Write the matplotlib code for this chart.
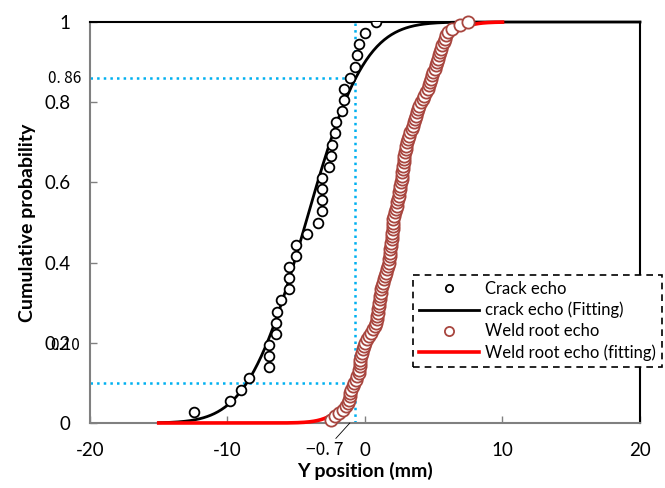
import math
import numpy as np
import matplotlib
matplotlib.use("Agg")
import matplotlib.pyplot as plt

plt.rcParams['font.family'] = ['Lato', 'DejaVu Sans']
plt.rcParams['axes.unicode_minus'] = False

# crack echo positions (mm), sorted
crack_y = [-12.4, -9.8, -9.0, -8.4, -7.0, -7.0, -7.0, -6.5, -6.5, -6.4, -6.1, -5.5,
           -5.5, -5.5, -5.0, -5.0, -4.2, -3.4, -3.1, -3.1, -3.1, -3.1, -2.6, -2.5,
           -2.4, -2.2, -2.1, -1.7, -1.5, -1.5, -1.1, -0.7, -0.6, -0.4, 0.0, 0.8]

# weld root echo positions (mm), sorted
weld_y = [-2.5, -2.2, -1.9, -1.6, -1.35, -1.2, -1.14, -1.1, -1.07, -1.03,
          -0.9, -0.79, -0.66, -0.55, -0.47, -0.41, -0.38, -0.36, -0.33, -0.3,
          -0.23, -0.16, -0.08, 0.0, 0.14, 0.27, 0.45, 0.61, 0.72, 0.83,
          0.87, 0.91, 0.95, 0.98, 1.01, 1.04, 1.06, 1.1, 1.13, 1.18,
          1.25, 1.31, 1.39, 1.47, 1.55, 1.62, 1.68, 1.75, 1.77, 1.79,
          1.81, 1.85, 1.89, 1.92, 1.95, 1.97, 2.0, 2.01, 2.02, 2.03,
          2.05, 2.11, 2.18, 2.25, 2.3, 2.35, 2.39, 2.44, 2.48, 2.52,
          2.57, 2.62, 2.66, 2.69, 2.72, 2.75, 2.78, 2.81, 2.84, 2.87,
          2.91, 2.95, 2.99, 3.04, 3.12, 3.2, 3.29, 3.39, 3.49, 3.56,
          3.61, 3.69, 3.77, 3.85, 3.95, 4.07, 4.2, 4.32, 4.44, 4.57,
          4.65, 4.73, 4.81, 4.9, 4.98, 5.06, 5.14, 5.22, 5.3, 5.38,
          5.47, 5.55, 5.63, 5.71, 5.79, 5.9, 6.05, 6.3, 6.9, 7.5]

# normal fits (mean, std) and drawing ranges
crack_mu, crack_sd = -4.3, 3.35
weld_mu, weld_sd = 2.2, 2.26
crack_range = (-15, 20)
weld_range = (-15, 10)

# reference lines
x_ref = -0.7
p_hi, p_lo = 0.86, 0.10


def norm_cdf(x, mu, sd):
    return np.array([0.5 * (1 + math.erf((v - mu) / (sd * math.sqrt(2)))) for v in x])


crack_p = np.arange(1, len(crack_y) + 1) / len(crack_y)
weld_p = np.arange(1, len(weld_y) + 1) / len(weld_y)

fig = plt.figure(figsize=(6.65, 4.88), dpi=100)
ax = fig.add_axes([0.1353, 0.1332, 0.8271, 0.8217])

xc = np.linspace(*crack_range, 400)
xw = np.linspace(*weld_range, 400)

ax.plot(crack_y, crack_p, 'o', mfc='white', mec='black', ms=7, mew=1.3,
        label='Crack echo', zorder=3)
ax.plot(xc, norm_cdf(xc, crack_mu, crack_sd), color='black', lw=2,
        label='crack echo (Fitting)', zorder=2, clip_on=False)
ax.plot(weld_y, weld_p, 'o', mfc='white', mec='#A8463F', ms=8.8, mew=1.3,
        label='Weld root echo', zorder=5, clip_on=False)
ax.plot(xw, norm_cdf(xw, weld_mu, weld_sd), color='#FF0000', lw=2.6,
        label='Weld root echo (fitting)', zorder=4, clip_on=False)

blue = '#00B0F0'
ax.plot([-20, x_ref], [p_hi, p_hi], color=blue, ls=':', lw=1.8, zorder=1)
ax.plot([-20, x_ref], [p_lo, p_lo], color=blue, ls=':', lw=1.8, zorder=1)
ax.plot([x_ref, x_ref], [0, 1], color=blue, ls=':', lw=1.8, zorder=1)

ax.set_xlim(-20, 20)
ax.set_ylim(0, 1)
ax.set_xticks([-20, -10, 0, 10, 20])
ax.set_yticks([0, 0.2, 0.4, 0.6, 0.8, 1])
ax.set_yticklabels(['0', '0.2', '0.4', '0.6', '0.8', '1'])
ax.tick_params(direction='in', length=5, width=1, color='#808080',
               labelsize=13.5, pad=14)
ax.set_xlabel('Y position (mm)', fontsize=14, fontweight='bold', labelpad=2)
ax.set_ylabel('Cumulative probability', fontsize=14, fontweight='bold', labelpad=6)

for s in ['left', 'bottom']:
    ax.spines[s].set_color('#808080')
    ax.spines[s].set_linewidth(1.5)
for s in ['top', 'right']:
    ax.spines[s].set_color('black')
    ax.spines[s].set_linewidth(1.5)

# hand-placed annotations
cjk = ['Noto Sans CJK JP', 'DejaVu Sans']
ax.text(-0.015, p_hi, '0. 86', transform=ax.get_yaxis_transform(), ha='right',
        va='center', fontsize=11, family=cjk)
ax.text(-0.018, 0.193, '0.10', transform=ax.get_yaxis_transform(), ha='right',
        va='center', fontsize=11, family=cjk)
ax.annotate('\u22120. 7', xy=(-1.1, 0), xytext=(-2.9, -0.068), ha='center',
            va='center', fontsize=12.5, family=cjk, annotation_clip=False,
            arrowprops=dict(arrowstyle='-', lw=0.6, color='black', shrinkA=0, shrinkB=0))

leg = ax.legend(loc='upper left', bbox_to_anchor=(0.587, 0.369), fontsize=12,
                frameon=True, fancybox=False, edgecolor='black', framealpha=1,
                borderpad=0.35, labelspacing=0.3, handlelength=3.6,
                handletextpad=0.4, markerscale=0.75, borderaxespad=0)
leg.get_frame().set_linestyle((0, (4, 3)))
leg.get_frame().set_linewidth(1.2)

fig.savefig('out.png', dpi=100)
